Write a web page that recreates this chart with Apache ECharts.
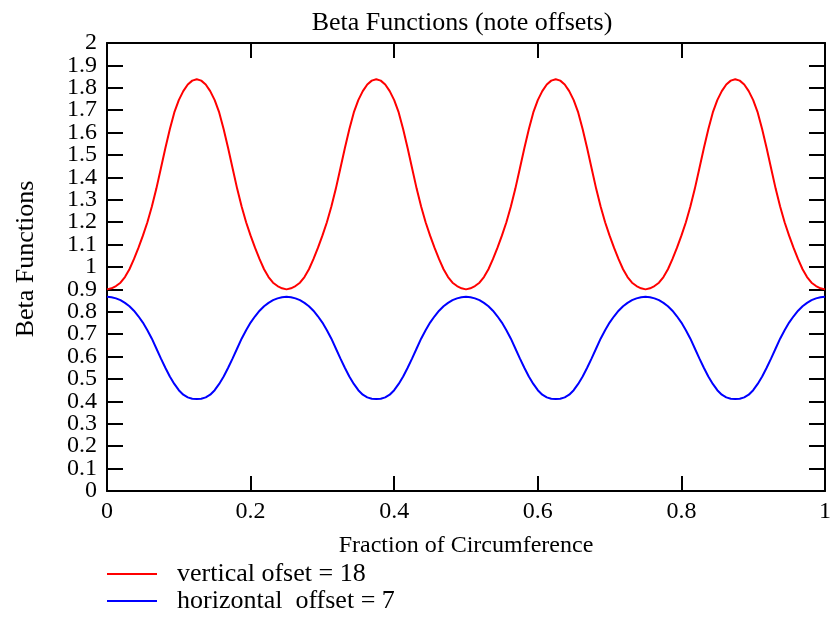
<!DOCTYPE html>
<html>
<head>
<meta charset="utf-8">
<script src="https://cdn.jsdelivr.net/npm/echarts@6/dist/echarts.min.js"></script>
<style>html,body{margin:0;padding:0;background:#fff;}#chart{width:834px;height:618px;}</style>
</head>
<body>
<div id="chart"></div>
<script>
var titleText = 'Beta Functions (note offsets)';
var xName = 'Fraction of Circumference';
var yName = 'Beta Functions';
var seriesNames = ['vertical ofset = 18', 'horizontal  offset = 7'];
var yEndLabels = [0, 2];

var xValues = [
  0, 0.00625, 0.0125, 0.01875, 0.025, 0.03125, 0.0375, 0.04375, 0.05, 0.05625,
  0.0625, 0.06875, 0.075, 0.08125, 0.0875, 0.09375, 0.1, 0.10625, 0.1125, 0.11875,
  0.125, 0.13125, 0.1375, 0.14375, 0.15, 0.15625, 0.1625, 0.16875, 0.175, 0.18125,
  0.1875, 0.19375, 0.2, 0.20625, 0.2125, 0.21875, 0.225, 0.23125, 0.2375, 0.24375,
  0.25, 0.25625, 0.2625, 0.26875, 0.275, 0.28125, 0.2875, 0.29375, 0.3, 0.30625,
  0.3125, 0.31875, 0.325, 0.33125, 0.3375, 0.34375, 0.35, 0.35625, 0.3625, 0.36875,
  0.375, 0.38125, 0.3875, 0.39375, 0.4, 0.40625, 0.4125, 0.41875, 0.425, 0.43125,
  0.4375, 0.44375, 0.45, 0.45625, 0.4625, 0.46875, 0.475, 0.48125, 0.4875, 0.49375,
  0.5, 0.50625, 0.5125, 0.51875, 0.525, 0.53125, 0.5375, 0.54375, 0.55, 0.55625,
  0.5625, 0.56875, 0.575, 0.58125, 0.5875, 0.59375, 0.6, 0.60625, 0.6125, 0.61875,
  0.625, 0.63125, 0.6375, 0.64375, 0.65, 0.65625, 0.6625, 0.66875, 0.675, 0.68125,
  0.6875, 0.69375, 0.7, 0.70625, 0.7125, 0.71875, 0.725, 0.73125, 0.7375, 0.74375,
  0.75, 0.75625, 0.7625, 0.76875, 0.775, 0.78125, 0.7875, 0.79375, 0.8, 0.80625,
  0.8125, 0.81875, 0.825, 0.83125, 0.8375, 0.84375, 0.85, 0.85625, 0.8625, 0.86875,
  0.875, 0.88125, 0.8875, 0.89375, 0.9, 0.90625, 0.9125, 0.91875, 0.925, 0.93125,
  0.9375, 0.94375, 0.95, 0.95625, 0.9625, 0.96875, 0.975, 0.98125, 0.9875, 0.99375,
  1
];

var verticalBeta = [
  0.900, 0.905, 0.915, 0.930, 0.955, 0.990, 1.035, 1.085, 1.140, 1.200,
  1.270, 1.350, 1.440, 1.530, 1.615, 1.690, 1.745, 1.785, 1.815, 1.832,
  1.838, 1.832, 1.815, 1.785, 1.745, 1.690, 1.615, 1.530, 1.440, 1.350,
  1.270, 1.200, 1.140, 1.085, 1.035, 0.990, 0.955, 0.930, 0.915, 0.905,
  0.900, 0.905, 0.915, 0.930, 0.955, 0.990, 1.035, 1.085, 1.140, 1.200,
  1.270, 1.350, 1.440, 1.530, 1.615, 1.690, 1.745, 1.785, 1.815, 1.832,
  1.838, 1.832, 1.815, 1.785, 1.745, 1.690, 1.615, 1.530, 1.440, 1.350,
  1.270, 1.200, 1.140, 1.085, 1.035, 0.990, 0.955, 0.930, 0.915, 0.905,
  0.900, 0.905, 0.915, 0.930, 0.955, 0.990, 1.035, 1.085, 1.140, 1.200,
  1.270, 1.350, 1.440, 1.530, 1.615, 1.690, 1.745, 1.785, 1.815, 1.832,
  1.838, 1.832, 1.815, 1.785, 1.745, 1.690, 1.615, 1.530, 1.440, 1.350,
  1.270, 1.200, 1.140, 1.085, 1.035, 0.990, 0.955, 0.930, 0.915, 0.905,
  0.900, 0.905, 0.915, 0.930, 0.955, 0.990, 1.035, 1.085, 1.140, 1.200,
  1.270, 1.350, 1.440, 1.530, 1.615, 1.690, 1.745, 1.785, 1.815, 1.832,
  1.838, 1.832, 1.815, 1.785, 1.745, 1.690, 1.615, 1.530, 1.440, 1.350,
  1.270, 1.200, 1.140, 1.085, 1.035, 0.990, 0.955, 0.930, 0.915, 0.905,
  0.900
];

var horizontalBeta = [
  0.867, 0.865, 0.860, 0.852, 0.840, 0.825, 0.805, 0.780, 0.752, 0.718,
  0.680, 0.636, 0.592, 0.550, 0.511, 0.478, 0.450, 0.430, 0.418, 0.412,
  0.411, 0.412, 0.418, 0.430, 0.450, 0.478, 0.511, 0.550, 0.592, 0.636,
  0.680, 0.718, 0.752, 0.780, 0.805, 0.825, 0.840, 0.852, 0.860, 0.865,
  0.867, 0.865, 0.860, 0.852, 0.840, 0.825, 0.805, 0.780, 0.752, 0.718,
  0.680, 0.636, 0.592, 0.550, 0.511, 0.478, 0.450, 0.430, 0.418, 0.412,
  0.411, 0.412, 0.418, 0.430, 0.450, 0.478, 0.511, 0.550, 0.592, 0.636,
  0.680, 0.718, 0.752, 0.780, 0.805, 0.825, 0.840, 0.852, 0.860, 0.865,
  0.867, 0.865, 0.860, 0.852, 0.840, 0.825, 0.805, 0.780, 0.752, 0.718,
  0.680, 0.636, 0.592, 0.550, 0.511, 0.478, 0.450, 0.430, 0.418, 0.412,
  0.411, 0.412, 0.418, 0.430, 0.450, 0.478, 0.511, 0.550, 0.592, 0.636,
  0.680, 0.718, 0.752, 0.780, 0.805, 0.825, 0.840, 0.852, 0.860, 0.865,
  0.867, 0.865, 0.860, 0.852, 0.840, 0.825, 0.805, 0.780, 0.752, 0.718,
  0.680, 0.636, 0.592, 0.550, 0.511, 0.478, 0.450, 0.430, 0.418, 0.412,
  0.411, 0.412, 0.418, 0.430, 0.450, 0.478, 0.511, 0.550, 0.592, 0.636,
  0.680, 0.718, 0.752, 0.780, 0.805, 0.825, 0.840, 0.852, 0.860, 0.865,
  0.867
];

var font = 'Liberation Serif';

function pairs(xs, ys) {
  var out = [];
  for (var i = 0; i < xs.length; i++) out.push([xs[i], ys[i]]);
  return out;
}

var axisLineStyle = { show: true, onZero: false, lineStyle: { color: '#000', width: 2 } };
var xTickStyle = { show: true, inside: true, length: 15, lineStyle: { color: '#000', width: 2 } };
var yTickStyle = { show: true, inside: true, length: 16, lineStyle: { color: '#000', width: 2 } };

var gridLeft = 107, gridRight = 9;
var plotWidth = 834 - gridLeft - gridRight;

var chart = echarts.init(document.getElementById('chart'), null, { renderer: 'canvas' });
chart.setOption({
  animation: false,
  backgroundColor: '#fff',
  title: {
    text: titleText,
    left: 457,
    textAlign: 'center',
    top: 5,
    textStyle: { fontFamily: font, fontSize: 26, fontWeight: 'normal', color: '#000' }
  },
  legend: {
    orient: 'vertical',
    left: 107,
    top: 561,
    padding: 0,
    itemWidth: 50,
    itemHeight: 2,
    itemGap: 1,
    icon: 'rect',
    textStyle: { fontFamily: font, fontSize: 26, lineHeight: 26, color: '#000', padding: [0, 0, 0, 15] },
    data: seriesNames
  },
  grid: { left: gridLeft, right: gridRight, top: 43, bottom: 127, containLabel: false },
  xAxis: [{
    type: 'value',
    min: 0, max: 1, interval: 0.2,
    name: xName,
    nameLocation: 'middle',
    nameGap: 43,
    nameTextStyle: { fontFamily: font, fontSize: 24, color: '#000' },
    axisLine: axisLineStyle,
    axisTick: xTickStyle,
    splitLine: { show: false },
    axisLabel: { fontFamily: font, fontSize: 24, color: '#000', margin: 9, showMinLabel: true, showMaxLabel: true }
  }, {
    type: 'value',
    position: 'top',
    min: 0, max: 1, interval: 0.2,
    axisLine: axisLineStyle,
    axisTick: xTickStyle,
    splitLine: { show: false },
    axisLabel: { show: false }
  }],
  yAxis: [{
    type: 'value',
    min: 0, max: 2, interval: 0.1,
    name: yName,
    nameLocation: 'middle',
    nameGap: 68,
    nameTextStyle: { fontFamily: font, fontSize: 26, color: '#000', padding: [0, 0, 0, 16] },
    axisLine: axisLineStyle,
    axisTick: yTickStyle,
    splitLine: { show: false },
    axisLabel: { fontFamily: font, fontSize: 24, color: '#000', margin: 10, showMinLabel: false, showMaxLabel: false }
  }, {
    type: 'value',
    position: 'right',
    min: 0, max: 2, interval: 0.1,
    axisLine: axisLineStyle,
    axisTick: yTickStyle,
    splitLine: { show: false },
    axisLabel: {
      show: true,
      fontFamily: font, fontSize: 24, color: '#000',
      align: 'right',
      margin: -(plotWidth + 10),
      showMinLabel: true, showMaxLabel: true,
      formatter: function (v) { return yEndLabels.indexOf(Math.round(v * 10) / 10) >= 0 ? String(Math.round(v * 10) / 10) : ''; }
    }
  }],
  series: [{
    name: seriesNames[0],
    type: 'line',
    data: pairs(xValues, verticalBeta),
    smooth: false,
    showSymbol: false,
    symbol: 'none',
    lineStyle: { color: '#ff0000', width: 2 },
    itemStyle: { color: '#ff0000' }
  }, {
    name: seriesNames[1],
    type: 'line',
    data: pairs(xValues, horizontalBeta),
    smooth: false,
    showSymbol: false,
    symbol: 'none',
    lineStyle: { color: '#0000ff', width: 2 },
    itemStyle: { color: '#0000ff' }
  }]
});
</script>
</body>
</html>
